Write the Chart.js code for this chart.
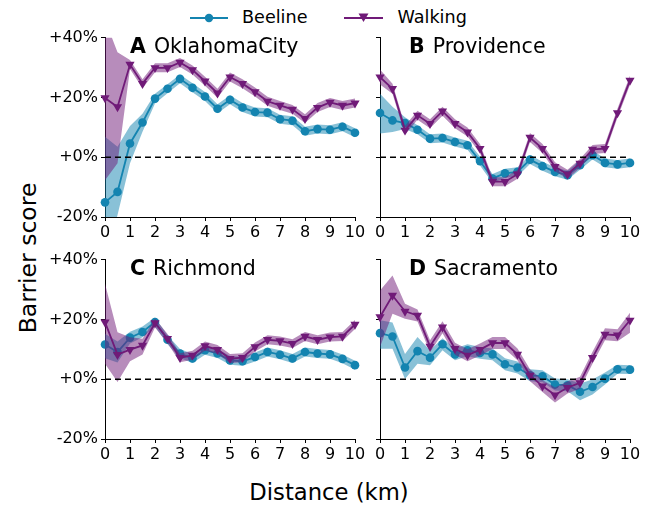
<!DOCTYPE html>
<html>
<head>
<meta charset="utf-8">
<script src="https://cdn.jsdelivr.net/npm/chart.js@4.4.0/dist/chart.umd.min.js"></script>
<style>
  html, body { margin: 0; padding: 0; background: #fff; }
  body { width: 657px; height: 506px; position: relative; overflow: hidden; font-family: 'DejaVu Sans', sans-serif; }
  .pane { position: absolute; }
  .title { position: absolute; font-size: 20.5px; color: #000; white-space: nowrap; line-height: 1; }
  .title b { margin-right: 8px; }
  #legend { position: absolute; top: 6px; left: 190px; font-size: 17.6px; line-height: 22px; white-space: nowrap; }
  #legend span.item { display: inline-block; }
  #legend svg { vertical-align: middle; margin-right: 14px; }
  #ylab { position: absolute; left: 28px; top: 258px; transform: translate(-50%, -50%) rotate(-90deg); font-size: 23.5px; white-space: nowrap; }
  #xlab { position: absolute; left: 329px; top: 492px; transform: translate(-50%, -50%); font-size: 22.7px; white-space: nowrap; }
</style>
</head>
<body>
<div id="legend">
  <span class="item" style="margin-right:37px"><svg width="38" height="12"><line x1="0" y1="6" x2="38" y2="6" stroke="#1484b0" stroke-width="2"/><circle cx="19" cy="6" r="4.2" fill="#1484b0"/></svg>Beeline</span><span class="item"><svg width="39" height="12"><line x1="0" y1="6" x2="39" y2="6" stroke="#701a78" stroke-width="2"/><polygon points="14.5,1.5 24.5,1.5 19.5,10" fill="#701a78"/></svg>Walking</span>
</div>
<div id="ylab">Barrier score</div>
<div id="xlab">Distance (km)</div>

<script>
// ---------- data ----------
const distances = [0, 0.5, 1, 1.5, 2, 2.5, 3, 3.5, 4, 4.5, 5, 5.5, 6, 6.5, 7, 7.5, 8, 8.5, 9, 9.5, 10];
const xTicks = [0, 1, 2, 3, 4, 5, 6, 7, 8, 9, 10];
const yTicks = [-20, 0, 20, 40];
const cities = ["OklahomaCity", "Providence", "Richmond", "Sacramento"];
const panelLetters = ["A", "B", "C", "D"];
const seriesNames = ["Beeline", "Walking"];

// OklahomaCity
const okcBeeline   = [-15.1, -11.6, 4.6, 11.6, 19.6, 22.9, 26.2, 23.2, 20.3, 16.2, 19.2, 16.6, 15.1, 14.9, 12.7, 12.2, 8.7, 9.4, 9.2, 10.2, 8.2];
const okcBeelineLo = [-35, -19.3, -2.0, 8.5, 18.0, 21.4, 24.7, 21.7, 18.8, 14.7, 17.7, 15.1, 13.6, 13.4, 11.2, 10.7, 7.2, 7.9, 7.7, 8.7, 6.7];
const okcBeelineHi = [6.8, 3.5, 10.4, 14.5, 21.2, 24.4, 27.7, 24.7, 21.8, 17.7, 20.7, 18.1, 16.6, 16.4, 14.2, 13.7, 10.2, 10.9, 10.7, 11.7, 9.7];
const okcWalking   = [19.8, 16.8, 31.0, 24.6, 29.9, 29.9, 31.7, 29.2, 25.4, 21.4, 26.8, 24.6, 21.8, 18.7, 17.3, 16.0, 12.9, 16.6, 18.3, 17.3, 18.1];
const okcWalkingLo = [-7.7, -2.0, 29.5, 23.1, 28.4, 28.4, 30.2, 27.7, 23.9, 19.9, 25.3, 23.1, 20.3, 17.2, 15.8, 14.5, 11.4, 15.1, 16.8, 15.8, 16.6];
const okcWalkingHi = [46, 35.1, 32.5, 26.1, 31.4, 31.4, 33.2, 30.7, 26.9, 22.9, 28.3, 26.1, 23.3, 20.2, 18.8, 17.5, 14.4, 18.1, 19.8, 18.8, 19.6];

// Providence
const provBeeline   = [14.8, 12.3, 11.4, 9.2, 6.2, 6.4, 5.1, 4.0, -1.3, -7.1, -5.4, -4.9, -0.8, -3.0, -4.9, -6.0, -2.7, 0.7, -1.9, -2.4, -1.9];
const provBeelineLo = [7.9, 8.4, 9.4, 7.7, 4.7, 4.9, 3.6, 2.5, -2.8, -8.6, -6.9, -6.4, -2.3, -4.5, -6.4, -7.5, -4.2, -0.8, -3.4, -3.9, -3.4];
const provBeelineHi = [21.2, 16.9, 13.4, 10.7, 7.7, 7.9, 6.6, 5.5, 0.2, -5.6, -3.9, -3.4, 0.7, -1.5, -3.4, -4.5, -1.2, 2.2, -0.4, -0.9, -0.4];
const provWalking   = [26.8, 22.9, 9.0, 14.0, 11.2, 15.4, 11.2, 8.4, 2.9, -8.2, -8.2, -5.7, 6.6, 2.9, -3.2, -5.7, -2.1, 2.6, 2.9, 14.8, 25.7];
const provWalkingLo = [24.3, 21.2, 7.5, 12.5, 9.7, 13.9, 9.7, 6.9, 1.4, -9.7, -9.7, -7.2, 5.1, 1.4, -4.7, -7.2, -3.6, 1.1, 1.4, 13.3, 24.2];
const provWalkingHi = [29.3, 24.6, 10.5, 15.5, 12.7, 16.9, 12.7, 9.9, 4.4, -6.7, -6.7, -4.2, 8.1, 4.4, -1.7, -4.2, -0.6, 4.1, 4.4, 16.3, 27.2];

// Richmond
const richBeeline   = [11.6, 9.1, 13.9, 15.8, 19.1, 13.2, 8.6, 6.9, 9.7, 8.6, 6.3, 6.0, 7.4, 9.1, 8.2, 6.9, 9.1, 8.6, 8.3, 6.8, 4.7];
const richBeelineLo = [7.0, 5.6, 11.9, 14.0, 17.6, 11.7, 7.1, 5.4, 8.2, 7.1, 4.8, 4.5, 5.9, 7.6, 6.7, 5.4, 7.6, 7.1, 6.8, 5.3, 3.2];
const richBeelineHi = [15.2, 12.6, 15.9, 17.6, 20.6, 14.7, 10.1, 8.4, 11.2, 10.1, 7.8, 7.5, 8.9, 10.6, 9.7, 8.4, 10.6, 10.1, 9.8, 8.3, 6.2];
const richWalking   = [19.1, 8.2, 9.9, 11.3, 18.8, 13.6, 7.2, 8.0, 11.1, 9.9, 6.9, 7.2, 10.8, 13.2, 12.8, 11.9, 14.3, 13.2, 14.1, 14.3, 18.3];
const richWalkingLo = [5.2, -0.9, 6.0, 8.3, 17.3, 12.1, 5.7, 6.5, 9.6, 8.4, 5.4, 5.7, 9.3, 11.7, 11.3, 10.4, 12.8, 11.7, 12.6, 12.8, 16.8];
const richWalkingHi = [31.9, 15.7, 14.0, 13.5, 20.3, 15.1, 8.7, 9.5, 12.6, 11.4, 8.4, 8.7, 12.3, 14.7, 14.3, 13.4, 15.8, 14.7, 15.6, 15.8, 19.8];

// Sacramento
const sacBeeline   = [15.4, 14.3, 3.9, 9.4, 7.2, 11.7, 8.3, 9.7, 8.8, 8.3, 5.0, 3.9, 1.3, 1.0, -1.8, -2.0, -4.2, -2.6, 0.2, 3.3, 3.2];
const sacBeelineLo = [10.2, 10.2, 0.1, 5.2, 4.7, 9.7, 6.3, 7.7, 6.8, 6.3, 3.0, 1.9, -0.7, -1.0, -3.8, -4.0, -7.0, -5.1, -1.8, 1.8, 1.7];
const sacBeelineHi = [19.7, 19.0, 8.4, 14.1, 9.7, 13.7, 10.3, 11.7, 10.8, 10.3, 7.0, 5.9, 3.3, 3.0, 0.2, 0.0, -1.4, -0.1, 2.2, 4.8, 4.7];
const sacWalking   = [20.8, 28.0, 22.7, 21.3, 11.0, 17.4, 10.2, 8.0, 9.9, 12.1, 12.1, 8.3, 1.3, -2.3, -5.3, -2.8, -1.2, 7.2, 15.0, 14.7, 19.7];
const sacWalkingLo = [10.8, 21.9, 20.2, 19.3, 9.0, 15.4, 8.2, 6.0, 7.9, 10.1, 10.1, 6.3, -0.7, -4.3, -7.8, -4.8, -3.2, 5.2, 13.0, 12.7, 15.5];
const sacWalkingHi = [29.7, 34.7, 25.2, 23.3, 13.0, 19.4, 12.2, 10.0, 11.9, 14.1, 14.1, 10.3, 3.3, -0.3, -2.8, -0.8, 0.8, 9.2, 17.0, 16.7, 22.2];

const zeroLine = [0, 0];
const zeroLineX = [0, 10];

// ---------- styles ----------
const BLUE = '#1484b0', BLUE_BAND = 'rgba(20,132,176,0.5)';
const PURPLE = '#701a78', PURPLE_BAND = 'rgba(112,26,120,0.5)';
const FONT = "'DejaVu Sans', sans-serif";

const panels = [
  { city: 0, b: okcBeeline,  bLo: okcBeelineLo,  bHi: okcBeelineHi,  w: okcWalking,  wLo: okcWalkingLo,  wHi: okcWalkingHi,  left: 0,   top: 25,  yLabels: true,  tOff: 25 },
  { city: 1, b: provBeeline, bLo: provBeelineLo, bHi: provBeelineHi, w: provWalking, wLo: provWalkingLo, wHi: provWalkingHi, left: 370, top: 25,  yLabels: false, tOff: 29 },
  { city: 2, b: richBeeline, bLo: richBeelineLo, bHi: richBeelineHi, w: richWalking, wLo: richWalkingLo, wHi: richWalkingHi, left: 0,   top: 247, yLabels: true,  tOff: 25 },
  { city: 3, b: sacBeeline,  bLo: sacBeelineLo,  bHi: sacBeelineHi,  w: sacWalking,  wLo: sacWalkingLo,  wHi: sacWalkingHi,  left: 370, top: 247, yLabels: false, tOff: 29 }
];

const pts = ys => distances.map((x, i) => ({ x: x, y: ys[i] }));

panels.forEach(p => {
  const yAxisW = p.yLabels ? 105 : 10;
  const cw = p.yLabels ? 370 : 287;
  const ch = 232;
  const div = document.createElement('div');
  div.className = 'pane';
  div.style.left = p.left + 'px';
  div.style.top = p.top + 'px';
  const cv = document.createElement('canvas');
  cv.width = cw; cv.height = ch;
  cv.style.width = cw + 'px'; cv.style.height = ch + 'px';
  div.appendChild(cv);
  document.body.appendChild(div);

  const title = document.createElement('div');
  title.className = 'title';
  title.innerHTML = '<b>' + panelLetters[p.city] + '</b>' + cities[p.city];
  title.style.left = (p.left + yAxisW + p.tOff) + 'px';
  title.style.top = (p.top + 11) + 'px';
  document.body.appendChild(title);

  const band = (data, color, order) => ({
    data: pts(data), borderColor: 'transparent', backgroundColor: color,
    borderWidth: 0, pointRadius: 0, pointHoverRadius: 0, order: order
  });

  new Chart(cv, {
    type: 'line',
    data: {
      datasets: [
        { ...band(p.bHi, BLUE_BAND, 6), fill: false },
        { ...band(p.bLo, BLUE_BAND, 6), fill: '-1' },
        { label: seriesNames[0], data: pts(p.b), borderColor: BLUE, backgroundColor: BLUE, borderWidth: 1.8,
          pointStyle: 'circle', pointRadius: 4.3, pointBorderWidth: 0, fill: false, clip: false, order: 4 },
        { ...band(p.wHi, PURPLE_BAND, 3), fill: false },
        { ...band(p.wLo, PURPLE_BAND, 3), fill: '-1' },
        { label: seriesNames[1], data: pts(p.w), borderColor: PURPLE, backgroundColor: PURPLE, borderWidth: 1.8,
          pointStyle: 'triangle', rotation: 180, pointRadius: 5.3, pointBorderWidth: 0, fill: false, clip: false, order: 2 },
        { data: zeroLineX.map((x, i) => ({ x: x, y: zeroLine[i] })), borderColor: '#000', borderWidth: 1.4,
          borderDash: [6, 4], pointRadius: 0, fill: false, order: 1 }
      ]
    },
    options: {
      responsive: false,
      animation: false,
      devicePixelRatio: 1,
      layout: { padding: { left: 0, top: 12, right: cw - yAxisW - 250, bottom: 0 } },
      plugins: { legend: { display: false }, tooltip: { enabled: false } },
      elements: { line: { tension: 0 } },
      scales: {
        x: {
          type: 'linear', min: 0, max: 10,
          afterBuildTicks: s => { s.ticks = xTicks.map(v => ({ value: v })); },
          afterFit: s => { s.height = 40; },
          ticks: { autoSkip: false, maxRotation: 0, padding: 2, color: '#000',
                   font: { family: FONT, size: 16 } },
          grid: { drawOnChartArea: false, drawTicks: true, tickLength: 4, tickColor: '#000', tickWidth: 1 },
          border: { display: true, color: '#000', width: 1 }
        },
        y: {
          type: 'linear', min: -20, max: 40,
          afterBuildTicks: s => { s.ticks = yTicks.map(v => ({ value: v })); },
          afterFit: s => { s.width = yAxisW; },
          ticks: { autoSkip: false, padding: 3, color: '#000', font: { family: FONT, size: 16 },
                   callback: v => p.yLabels ? ((v >= 0 ? '+' : '') + v + '%') : '' },
          grid: { drawOnChartArea: false, drawTicks: true, tickLength: 4, tickColor: '#000', tickWidth: 1 },
          border: { display: true, color: '#000', width: 1 }
        }
      }
    }
  });
});
</script>
</body>
</html>
